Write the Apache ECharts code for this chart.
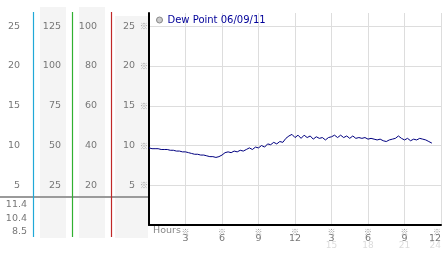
<!DOCTYPE html>
<html><head><meta charset="utf-8">
<script src="https://cdn.jsdelivr.net/npm/echarts@6/dist/echarts.min.js"></script>
<style>html,body{margin:0;padding:0;background:#fff}#c{width:442px;height:253px}</style>
</head><body><div id="c"></div>
<script>
// ---- data ----
const seriesName = 'Dew Point 06/09/11';
const startHour = 0;
const stepHours = 0.25;
const dewPoint = [
  9.7, 9.6, 9.6, 9.6,
  9.5, 9.5, 9.5, 9.4,
  9.4, 9.3, 9.3, 9.2,
  9.2, 9.1, 9.0, 8.9,
  8.9, 8.8, 8.8, 8.7,
  8.6, 8.6, 8.5, 8.6,
  8.8, 9.1, 9.2, 9.1,
  9.3, 9.2, 9.4, 9.3,
  9.5, 9.7, 9.5, 9.8,
  9.7, 10.0, 9.8, 10.2,
  10.1, 10.4, 10.2, 10.5,
  10.4, 10.9, 11.2, 11.4,
  11.0, 11.3, 10.9, 11.3,
  11.0, 11.2, 10.8, 11.1,
  10.9, 11.0, 10.7, 11.0,
  11.1, 11.3, 11.0, 11.3,
  11.0, 11.2, 10.9, 11.2,
  10.9, 11.0, 10.9, 11.0,
  10.8, 10.9, 10.8, 10.7,
  10.8, 10.6, 10.5, 10.7,
  10.8, 10.9, 11.2, 10.9,
  10.7, 10.9, 10.6, 10.8,
  10.7, 10.9, 10.8, 10.7,
  10.5, 10.3
];
const xTickMain = ['', '3', '6', '9', '12', '3', '6', '9', '12'];
const xTickSub  = ['', '', '', '', '', '15', '18', '21', '24'];
const statValues = ['11.4', '10.4', '8.5'];
const xAxisTitle = 'Hours';
const yMax = 26.67;
const col2Scale = 5, col3Scale = 4;

// ---- chart ----
const FONT = 'DejaVu Sans';
const LBL = '#777';
const chart = echarts.init(document.getElementById('c'), null, {renderer: 'canvas'});
const seriesData = dewPoint.map((v, i) => [startHour + i * stepHours, v]);

function isTick(v, interval, max) {
  if (v <= 0 || v > max - 0.01) return false;
  return Math.abs(v - Math.round(v / interval) * interval) < 1e-6;
}
function sideAxis(scale, interval, offset) {
  return {
    type: 'value', position: 'left', offset: offset, min: 0, max: yMax * scale, interval: interval,
    axisLine: {show: false}, axisTick: {show: false}, splitLine: {show: false},
    axisLabel: {
      margin: 0, color: LBL, fontSize: 9.5, fontFamily: FONT, align: 'right',
      formatter: v => isTick(v, interval, yMax * scale) ? String(Math.round(v)) : ''
    }
  };
}
const gridC = '#dddddd';
const graphics = [
  {type: 'rect', z: -5, shape: {x: 40, y: 7, width: 26, height: 231}, style: {fill: '#f4f4f4'}},
  {type: 'rect', z: -5, shape: {x: 79, y: 7, width: 26, height: 231}, style: {fill: '#f4f4f4'}},
  {type: 'rect', z: -5, shape: {x: 115, y: 16, width: 33, height: 222}, style: {fill: '#f4f4f4'}},
  {type: 'line', z: -4, shape: {x1: 0, y1: 197, x2: 149, y2: 197}, style: {stroke: '#9a9a9a', lineWidth: 2}},
  {type: 'line', z: -3, shape: {x1: 33.5, y1: 12, x2: 33.5, y2: 237}, style: {stroke: '#20a8d8', lineWidth: 1.2}},
  {type: 'line', z: -3, shape: {x1: 72.5, y1: 12, x2: 72.5, y2: 237}, style: {stroke: '#30b030', lineWidth: 1.2}},
  {type: 'line', z: -3, shape: {x1: 111.5, y1: 12, x2: 111.5, y2: 237}, style: {stroke: '#c02828', lineWidth: 1.2}},
  {type: 'text', x: 153, y: 231, style: {text: xAxisTitle, fill: '#888', font: '9.5px "DejaVu Sans"', verticalAlign: 'middle'}}
];
statValues.forEach((s, i) => {
  graphics.push({type: 'text', x: 27, y: 205 + i * 13.5,
    style: {text: s, fill: LBL, font: '9.5px "DejaVu Sans"', align: 'right', verticalAlign: 'middle'}});
});

chart.setOption({
  animation: false,
  backgroundColor: '#fff',
  grid: {left: 149, top: 13, right: 1, bottom: 28, containLabel: false, outerBoundsMode: 'none'},
  legend: {
    left: 156, top: 15, padding: 0, icon: 'circle', itemWidth: 6, itemHeight: 6,
    data: [{name: seriesName, itemStyle: {color: '#cccccc', borderColor: '#888', borderWidth: 1}}],
    textStyle: {color: '#000099', fontSize: 10, fontFamily: FONT}
  },
  xAxis: {
    type: 'value', min: 0, max: 24, interval: 3,
    axisLine: {lineStyle: {color: '#000', width: 2}},
    axisTick: {show: false},
    splitLine: {show: true, lineStyle: {color: gridC, width: 1}},
    axisLabel: {
      margin: 3, alignMaxLabel: 'right', color: LBL, fontFamily: FONT,
      formatter: v => {
        const i = Math.round(v / 3);
        if (i === 0) return '';
        let s = '{m|※}\n{h|' + xTickMain[i] + '}';
        if (xTickSub[i]) s += '\n{f|' + xTickSub[i] + '}';
        return s;
      },
      rich: {
        m: {fontSize: 8, color: '#999', lineHeight: 7, fontFamily: 'Noto Sans CJK JP'},
        h: {fontSize: 9.5, color: LBL, lineHeight: 7, fontFamily: FONT},
        f: {fontSize: 9, color: '#dcdcdc', lineHeight: 7, fontFamily: FONT}
      }
    }
  },
  yAxis: [
    {
      type: 'value', min: 0, max: yMax, interval: 5,
      axisLine: {show: true, lineStyle: {color: '#000', width: 2}},
      axisTick: {show: false},
      splitLine: {show: true, lineStyle: {color: ['transparent', gridC, gridC, gridC, gridC, gridC, 'transparent'], width: 1}},
      axisLabel: {
        margin: 1, fontFamily: FONT,
        formatter: v => isTick(v, 5, yMax) ? '{n|' + Math.round(v) + '}{m|※}' : '',
        rich: {
          n: {fontSize: 9.5, color: LBL, fontFamily: FONT, padding: [0, 5, 0, 0]},
          m: {fontSize: 8, color: '#999', fontFamily: 'Noto Sans CJK JP'}
        }
      }
    },
    sideAxis(1, 5, 129),
    sideAxis(col2Scale, 25, 88),
    sideAxis(col3Scale, 20, 52)
  ],
  graphic: graphics,
  series: [{
    name: seriesName, type: 'line', data: seriesData, showSymbol: false, symbol: 'none',
    lineStyle: {color: '#000080', width: 1}, itemStyle: {color: '#000080'}
  }]
});
</script></body></html>
